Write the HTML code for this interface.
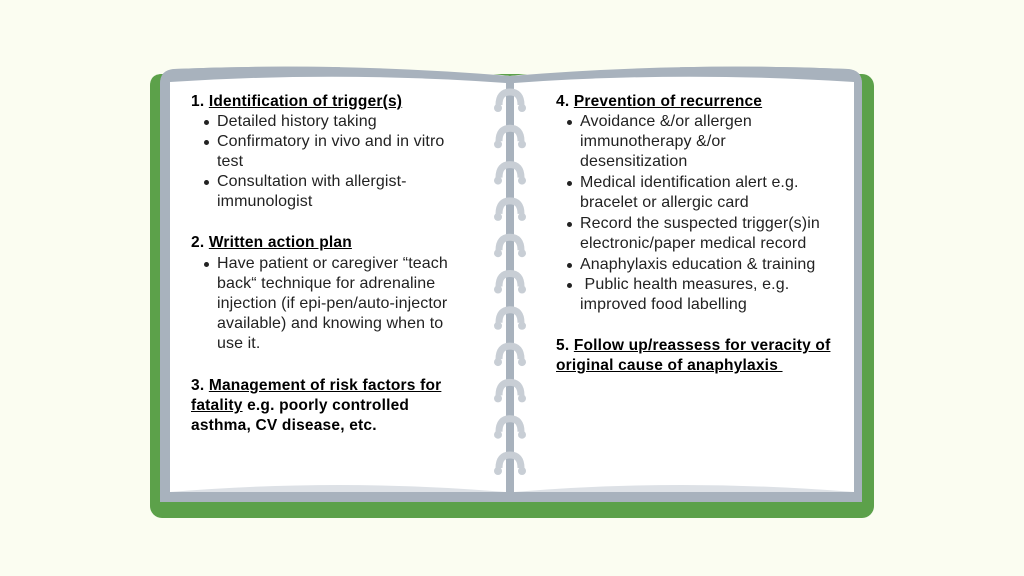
<!DOCTYPE html>
<html><head><meta charset="utf-8"><style>
body{margin:0;width:1024px;height:576px;background:#fbfdf1;position:relative;overflow:hidden;font-family:"Liberation Sans",sans-serif;color:#111;}
svg{position:absolute;left:0;top:0}
.t{position:absolute;font-size:16px;letter-spacing:0.1px;line-height:20px;white-space:nowrap;color:#222}
.b{font-weight:bold;color:#000;font-size:15.5px;letter-spacing:0.2px}
.u{text-decoration:underline}
.d{position:absolute;width:5px;height:5px;border-radius:50%;background:#222}
</style></head><body>
<svg width="1024" height="576">
<rect x="150" y="74" width="724" height="444" rx="12" fill="#5ca14a"/>
<path d="M150,86 Q150,74 162,74 L160,90 Z" fill="#5ca14a"/>
<path d="M160,84 Q160,70 174,69 Q340,62 510,76 Q680,62 848,69 Q862,70 862,84 L862,502 L160,502 Z" fill="#a8b2bd"/>
<path d="M340,66 Q430,66 510,76 Q590,66 680,66 L680,76 L340,76 Z" fill="#fbfdf1"/>
<path d="M160,84 Q160,70 174,69 Q340,62 510,76 Q680,62 848,69 Q862,70 862,84 L862,502 L160,502 Z" fill="#a8b2bd"/>
<path d="M170,82 Q340,71 506,83 L506,492 L170,492 Z" fill="#fff"/>
<path d="M514,83 Q680,71 854,82 L854,492 L514,492 Z" fill="#fff"/>
<path d="M170,492 Q340,478 506,492 Z" fill="#dde1e6"/>
<path d="M514,492 Q680,478 854,492 Z" fill="#dde1e6"/>
<rect x="507" y="76" width="7" height="422" fill="#a8b2bd"/>
<g id="rings" fill="none" stroke="#c8ced5" stroke-width="7"></g>
</svg>
<script>
var g=document.getElementById('rings'),s='';
for(var i=0;i<11;i++){var y=100+i*36.3;
s+='<path d="M499,'+(y+5)+' Q499,'+(y-8)+' 510,'+(y-8)+' Q521,'+(y-8)+' 521,'+(y+5)+'"/>';
s+='<circle cx="498" cy="'+(y+8)+'" r="4" fill="#c8ced5" stroke="none"/><circle cx="522" cy="'+(y+8)+'" r="4" fill="#c8ced5" stroke="none"/>';}
g.innerHTML=s;
</script>
<div class="t b" style="left:191px;top:92px">1. <span class="u">Identification of trigger(s)</span></div>
<div class="d" style="left:204px;top:120px"></div><div class="t" style="left:217px;top:112px">Detailed history taking</div>
<div class="d" style="left:204px;top:140px"></div><div class="t" style="left:217px;top:132px">Confirmatory in vivo and in vitro</div>
<div class="t" style="left:217px;top:152px">test</div>
<div class="d" style="left:204px;top:180px"></div><div class="t" style="left:217px;top:172px">Consultation with allergist-</div>
<div class="t" style="left:217px;top:192px">immunologist</div>
<div class="t b" style="left:191px;top:233px">2. <span class="u">Written action plan</span></div>
<div class="d" style="left:204px;top:262px"></div><div class="t" style="left:217px;top:254px">Have patient or caregiver “teach</div>
<div class="t" style="left:217px;top:274px">back“ technique for adrenaline</div>
<div class="t" style="left:217px;top:294px">injection (if epi-pen/auto-injector</div>
<div class="t" style="left:217px;top:314px">available) and knowing when to</div>
<div class="t" style="left:217px;top:334px">use it.</div>
<div class="t b" style="left:191px;top:376px">3. <span class="u">Management of risk factors for</span></div>
<div class="t b" style="left:191px;top:396px"><span class="u">fatality</span> e.g. poorly controlled</div>
<div class="t b" style="left:191px;top:416px">asthma, CV disease, etc.</div>

<div class="t b" style="left:556px;top:92px">4. <span class="u">Prevention of recurrence</span></div>
<div class="d" style="left:567px;top:120px"></div><div class="t" style="left:580px;top:112px">Avoidance &amp;/or allergen</div>
<div class="t" style="left:580px;top:132px">immunotherapy &amp;/or</div>
<div class="t" style="left:580px;top:152px">desensitization</div>
<div class="d" style="left:567px;top:181px"></div><div class="t" style="left:580px;top:173px">Medical identification alert e.g.</div>
<div class="t" style="left:580px;top:193px">bracelet or allergic card</div>
<div class="d" style="left:567px;top:222px"></div><div class="t" style="left:580px;top:214px">Record the suspected trigger(s)in</div>
<div class="t" style="left:580px;top:234px">electronic/paper medical record</div>
<div class="d" style="left:567px;top:263px"></div><div class="t" style="left:580px;top:255px">Anaphylaxis education &amp; training</div>
<div class="d" style="left:567px;top:283px"></div><div class="t" style="left:580px;top:275px">&nbsp;Public health measures, e.g.</div>
<div class="t" style="left:580px;top:295px">improved food labelling</div>
<div class="t b" style="left:556px;top:336px">5. <span class="u">Follow up/reassess for veracity of</span></div>
<div class="t b" style="left:556px;top:356px"><span class="u">original cause of anaphylaxis&nbsp;</span></div>
</body></html>
